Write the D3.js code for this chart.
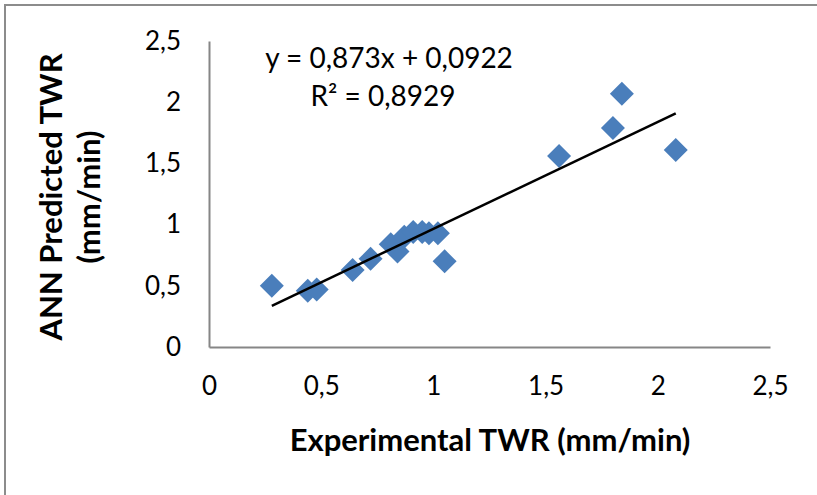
<!DOCTYPE html>
<html>
<head>
<meta charset="utf-8">
<script src="https://cdn.jsdelivr.net/npm/d3@7"></script>
<style>
  body { margin: 0; background: #fff; }
  text { font-family: Lato, "Open Sans", sans-serif; fill: #000; }
</style>
</head>
<body>
<div id="chart"></div>
<script>
var svgWidth = 817;
var svgHeight = 495;

// experimental vs ANN predicted TWR (mm/min)
var experimental = [0.28, 0.44, 0.48, 0.64, 0.72, 0.81, 0.84, 0.87, 0.91, 0.95, 0.98, 1.02, 1.05, 1.56, 1.80, 1.84, 2.08];
var predicted    = [0.50, 0.46, 0.47, 0.63, 0.72, 0.84, 0.78, 0.90, 0.94, 0.94, 0.93, 0.93, 0.70, 1.56, 1.79, 2.07, 1.61];
var xTicks = [0, 0.5, 1, 1.5, 2, 2.5];
var yTicks = [0, 0.5, 1, 1.5, 2, 2.5];
var slope = 0.873;
var intercept = 0.0922;

var svg = d3.select("#chart")
  .append("svg")
  .attr("width", svgWidth)
  .attr("height", svgHeight);

// outer chart border (cut off on right and bottom)
svg.append("path")
  .attr("d", "M5,495 L5,5 L817,5")
  .attr("fill", "none")
  .attr("stroke", "#8c8c8c")
  .attr("stroke-width", 2);

var xScale = d3.scaleLinear().domain([0, 2.5]).range([209, 770]);
var yScale = d3.scaleLinear().domain([0, 2.5]).range([347, 41]);

var fmt = d => String(d).replace(".", ",");

// axes
var xAxis = svg.append("g")
  .attr("transform", "translate(0,347)")
  .call(d3.axisBottom(xScale).tickValues(xTicks).tickSize(0).tickPadding(30).tickFormat(fmt));
var yAxis = svg.append("g")
  .attr("transform", "translate(209,0)")
  .call(d3.axisLeft(yScale).tickValues(yTicks).tickSize(0).tickPadding(28).tickFormat(fmt));

[xAxis, yAxis].forEach(function(ax) {
  ax.select(".domain").attr("stroke", "#868686").attr("stroke-width", 2);
  ax.selectAll("text")
    .style("font-family", "Lato, 'Open Sans', sans-serif")
    .style("font-size", "26px")
    .attr("fill", "#000");
});

// trend line over the data range
var xExt = d3.extent(experimental);
var line = d3.line()
  .x(d => xScale(d))
  .y(d => yScale(slope * d + intercept));

// points
var diamond = "M0,-12 L12,0 L0,12 L-12,0 Z";
svg.append("g")
  .selectAll("path")
  .data(experimental)
  .enter()
  .append("path")
  .attr("d", diamond)
  .attr("fill", "#4a7ebb")
  .attr("transform", (d, i) => `translate(${xScale(d)},${yScale(predicted[i])})`);

svg.append("path")
  .datum(xExt)
  .attr("d", line)
  .attr("fill", "none")
  .attr("stroke", "#000")
  .attr("stroke-width", 2.5);

// equation labels
svg.append("text")
  .attr("x", 389).attr("y", 68)
  .attr("text-anchor", "middle")
  .style("font-size", "28px")
  .text("y = 0,873x + 0,0922");
svg.append("text")
  .attr("x", 383).attr("y", 106)
  .attr("text-anchor", "middle")
  .style("font-size", "28px")
  .text("R² = 0,8929");

// axis titles
svg.append("text")
  .attr("x", 490).attr("y", 451)
  .attr("text-anchor", "middle")
  .style("font-size", "31px")
  .style("font-weight", "bold")
  .text("Experimental TWR (mm/min)");

var yTitle = svg.append("g")
  .attr("transform", "translate(0,197) rotate(-90)");
yTitle.append("text")
  .attr("x", 0).attr("y", 62)
  .attr("text-anchor", "middle")
  .style("font-size", "31px")
  .style("font-weight", "bold")
  .text("ANN Predicted TWR");
yTitle.append("text")
  .attr("x", 0).attr("y", 100)
  .attr("text-anchor", "middle")
  .style("font-size", "31px")
  .style("font-weight", "bold")
  .text("(mm/min)");
</script>
</body>
</html>
